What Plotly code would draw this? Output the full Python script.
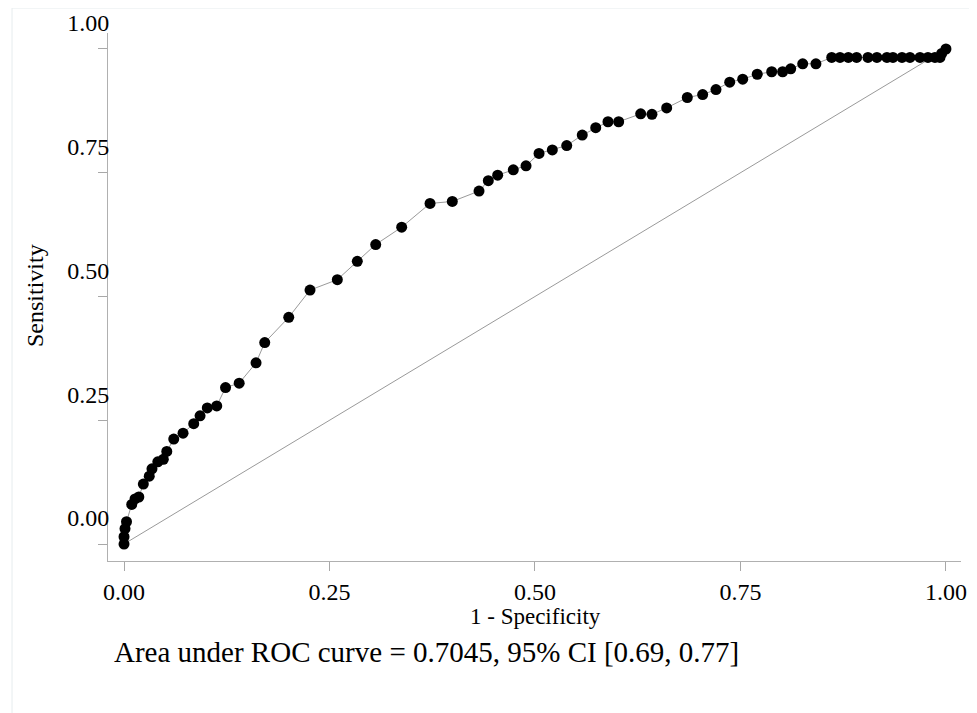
import plotly.graph_objects as go

# ROC points: 1 - specificity, sensitivity
fpr = [0.0, 0.0, 0.0012, 0.003, 0.0094, 0.0134, 0.018, 0.0235, 0.0307, 0.034,
       0.0411, 0.0478, 0.052, 0.0605, 0.0718, 0.0848, 0.0925, 0.1013, 0.1128, 0.1235,
       0.1401, 0.1606, 0.1712, 0.2004, 0.2263, 0.2595, 0.2838, 0.3062, 0.3378, 0.3723,
       0.3994, 0.4319, 0.4432, 0.4546, 0.4736, 0.4891, 0.5049, 0.5211, 0.5386, 0.5575,
       0.5739, 0.5888, 0.6018, 0.6286, 0.6423, 0.6602, 0.6853, 0.704, 0.7202, 0.7369,
       0.7527, 0.7704, 0.788, 0.8013, 0.8111, 0.8257, 0.8418, 0.861, 0.8711, 0.8812,
       0.8913, 0.9051, 0.916, 0.9282, 0.9355, 0.9465, 0.9562, 0.9684, 0.9781, 0.9866,
       0.9927, 0.9948, 1.0]
tpr = [0.0, 0.0147, 0.031, 0.045, 0.080, 0.091, 0.095, 0.121, 0.137, 0.152,
       0.166, 0.171, 0.187, 0.212, 0.224, 0.243, 0.259, 0.275, 0.279, 0.316,
       0.325, 0.366, 0.407, 0.458, 0.513, 0.534, 0.571, 0.605, 0.640, 0.688,
       0.692, 0.713, 0.734, 0.745, 0.756, 0.764, 0.789, 0.796, 0.805, 0.826,
       0.841, 0.853, 0.853, 0.869, 0.868, 0.881, 0.902, 0.908, 0.918, 0.933,
       0.939, 0.949, 0.954, 0.954, 0.960, 0.970, 0.970, 0.983, 0.983, 0.983,
       0.983, 0.983, 0.983, 0.983, 0.983, 0.983, 0.983, 0.983, 0.983, 0.983,
       0.983, 0.991, 1.0]

ref_x = [0, 1]
ref_y = [0, 1]

tick_vals = [0, 0.25, 0.5, 0.75, 1.0]
tick_text = ["0.00", "0.25", "0.50", "0.75", "1.00"]

note = "Area under ROC curve = 0.7045, 95% CI [0.69, 0.77]"

FONT = "Liberation Serif, Times New Roman, serif"

fig = go.Figure()
fig.add_trace(go.Scatter(x=ref_x, y=ref_y, mode="lines",
                         line=dict(color="#9a9a9a", width=1), hoverinfo="skip"))
fig.add_trace(go.Scatter(x=fpr, y=tpr, mode="lines+markers",
                         line=dict(color="#9a9a9a", width=1),
                         marker=dict(color="black", size=11)))

axis_common = dict(
    tickvals=tick_vals, ticktext=tick_text, ticks="outside", ticklen=9,
    tickcolor="#a8a8a8", showline=True, linecolor="#b0b0b0", linewidth=1,
    showgrid=False, zeroline=False, automargin=False,
    tickfont=dict(family=FONT, size=24, color="black"),
)

fig.update_layout(
    width=977, height=713,
    margin=dict(l=100, r=24, t=25, b=160, autoexpand=False),
    paper_bgcolor="white", plot_bgcolor="white",
    showlegend=False,
    font=dict(family=FONT, color="black"),
    xaxis=dict(range=[-0.0195, 1.0183], **axis_common),
    yaxis=dict(range=[-0.0343, 1.0323], ticklabelshift=-26, ticklabelstandoff=-16,
               **axis_common),
    shapes=[
        dict(type="line", xref="paper", yref="paper", x0=-0.1125, x1=1.03, y0=1.0473, y1=1.0473,
             line=dict(color="#e6ecee", width=1)),
        dict(type="line", xref="paper", yref="paper", x0=-0.1125, x1=-0.1125, y0=-0.3, y1=1.0473,
             line=dict(color="#e6ecee", width=1)),
    ],
    annotations=[
        dict(text="Sensitivity", xref="paper", yref="paper", x=(35 - 108) / 853, y=(561 - 296) / 528,
             showarrow=False, textangle=-90, xanchor="center", yanchor="middle",
             font=dict(family=FONT, size=24, color="black")),
        dict(text="1 - Specificity", xref="paper", yref="paper", x=(535 - 108) / 853, y=(561 - 616) / 528,
             showarrow=False, xanchor="center", yanchor="middle",
             font=dict(family=FONT, size=23, color="black")),
        dict(text=note, xref="paper", yref="paper", x=(112 - 108) / 853, y=(561 - 652) / 528,
             showarrow=False, xanchor="left", yanchor="middle",
             font=dict(family=FONT, size=29, color="black")),
    ],
)

fig.write_html("out.html")
